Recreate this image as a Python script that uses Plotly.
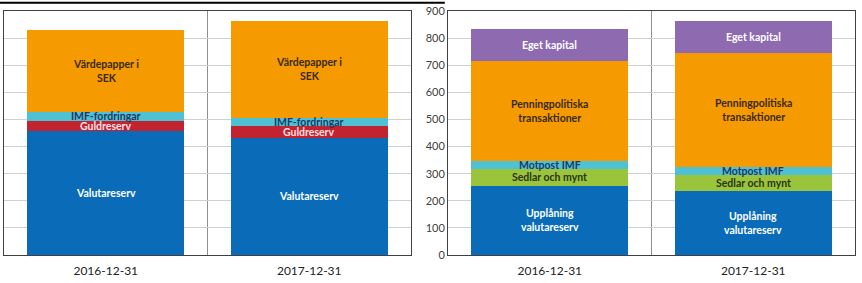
import plotly.graph_objects as go
from plotly.subplots import make_subplots

dates = ["2016-12-31", "2017-12-31"]

# Left panel (tillgångar)
left_names = ["Valutareserv", "Guldreserv", "IMF-fordringar", "Värdepapper i<br>SEK"]
valutareserv = [457, 433]
guldreserv = [39, 41]
imf_fordringar = [31, 32]
vardepapper = [303, 357]
left_values = [valutareserv, guldreserv, imf_fordringar, vardepapper]
left_colors = ["#0A6CB8", "#C1232F", "#4FC1D5", "#F59A00"]
left_text_colors = ["#FFFFFF", "#FFE0E6", "#1F3864", "#3A2A10"]

# Right panel (skulder och eget kapital)
right_names = ["Upplåning<br>valutareserv", "Sedlar och mynt", "Motpost IMF",
               "Penningpolitiska<br>transaktioner", "Eget kapital"]
upplaning = [255, 235]
sedlar = [62, 60]
motpost = [31, 28]
penning = [366, 421]
eget = [118, 119]
right_values = [upplaning, sedlar, motpost, penning, eget]
right_colors = ["#0A6CB8", "#9AC43C", "#4FC1D5", "#F59A00", "#8E6BB1"]
right_text_colors = ["#FFFFFF", "#2A3510", "#1F3864", "#3A2A10", "#FFFFFF"]

y_ticks = [0, 100, 200, 300, 400, 500, 600, 700, 800, 900]

fig = make_subplots(rows=1, cols=2, horizontal_spacing=0.0435)

FONT = "Lato"
annotations = []

def add_stack(names, values, colors, tcolors, col):
    xref = "x" if col == 1 else "x2"
    yref = "y" if col == 1 else "y2"
    base = [0] * len(dates)
    for name, vals, c, tc in zip(names, values, colors, tcolors):
        fig.add_trace(go.Bar(x=dates, y=vals, name=name, marker=dict(color=c, line=dict(width=0)),
                             showlegend=False, hoverinfo="name+y"), row=1, col=col)
        for i, d in enumerate(dates):
            annotations.append(dict(x=d, y=base[i] + vals[i] / 2, xref=xref, yref=yref,
                                    text=name, showarrow=False,
                                    font=dict(family=FONT, size=10.5, color=tc, weight="bold")))
        base = [b + v for b, v in zip(base, vals)]

add_stack(left_names, left_values, left_colors, left_text_colors, 1)
add_stack(right_names, right_values, right_colors, right_text_colors, 2)

axis_common = dict(showline=True, linecolor="#404040", linewidth=1, mirror=True)
fig.update_xaxes(**axis_common, type="category",
                 tickfont=dict(family=FONT, size=12, color="#222222"),
                 ticks="", ticklabelstandoff=5)
fig.update_yaxes(**axis_common, range=[0, 900], tickvals=y_ticks, showgrid=True,
                 gridcolor="#D0D0D0", gridwidth=1, zeroline=False,
                 tickfont=dict(family=FONT, size=11, color="#404040"))
fig.update_yaxes(showticklabels=False, row=1, col=1)

shapes = []
for xr, yr in [("x", "y domain"), ("x2", "y2 domain")]:
    shapes.append(dict(type="line", xref=xr, yref=yr, x0=0.5, x1=0.5, y0=0, y1=1,
                       line=dict(color="#909090", width=1), layer="below"))
shapes.append(dict(type="line", xref="paper", yref="paper", x0=-0.006, x1=0.518,
                   y0=1.034, y1=1.034, line=dict(color="#000000", width=2)))

fig.update_layout(
    width=862, height=283,
    margin=dict(l=4, r=7, t=9, b=28),
    plot_bgcolor="#FFFFFF", paper_bgcolor="#FFFFFF",
    barmode="stack", bargap=0.23,
    annotations=annotations, shapes=shapes,
    font=dict(family=FONT),
)

fig.write_html("out.html")
